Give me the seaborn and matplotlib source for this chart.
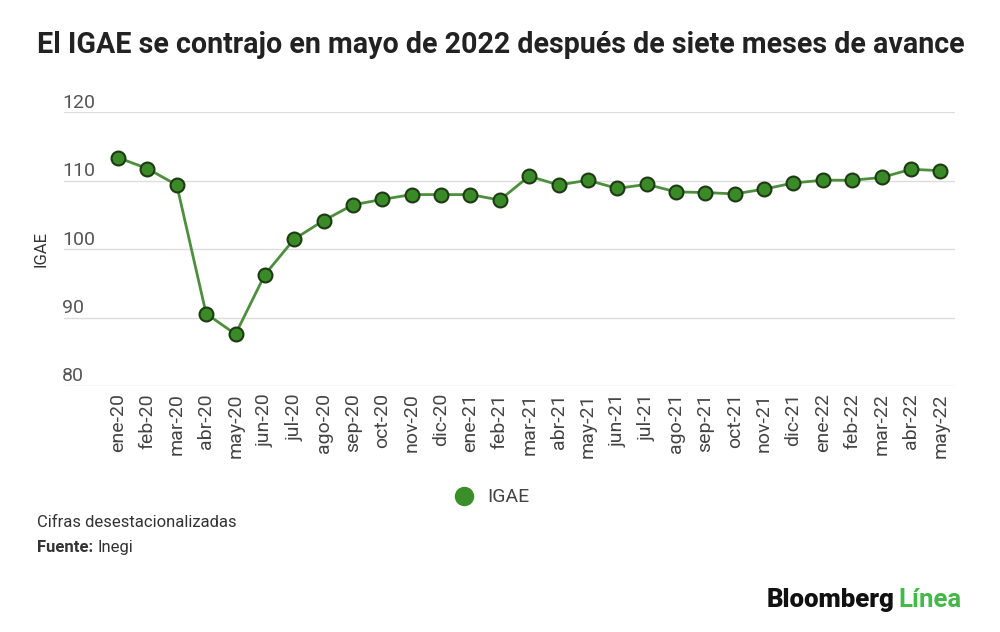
import matplotlib
matplotlib.use("Agg")
import matplotlib.pyplot as plt
import matplotlib.transforms as mtransforms
from matplotlib.lines import Line2D
import seaborn as sns
import pandas as pd

months = ["ene-20", "feb-20", "mar-20", "abr-20", "may-20", "jun-20", "jul-20", "ago-20",
          "sep-20", "oct-20", "nov-20", "dic-20", "ene-21", "feb-21", "mar-21", "abr-21",
          "may-21", "jun-21", "jul-21", "ago-21", "sep-21", "oct-21", "nov-21", "dic-21",
          "ene-22", "feb-22", "mar-22", "abr-22", "may-22"]
igae = [113.4, 111.8, 109.4, 90.6, 87.6, 96.3, 101.5, 104.2,
        106.5, 107.3, 108.0, 108.0, 108.0, 107.2, 110.7, 109.4,
        110.1, 108.9, 109.5, 108.4, 108.3, 108.1, 108.8, 109.7,
        110.1, 110.1, 110.5, 111.7, 111.5]
y_ticks = [80, 90, 100, 110, 120]

title = "El IGAE se contrajo en mayo de 2022 después de siete meses de avance"
series_name = "IGAE"
note = "Cifras desestacionalizadas"
source_label = "Fuente:"
source = "Inegi"

sns.set_theme(style="white")
plt.rcParams["font.family"] = ["Roboto", "DejaVu Sans"]

df = pd.DataFrame({"idx": range(len(months)), "mes": months, "IGAE": igae})

fig = plt.figure(figsize=(10, 6.32), dpi=100)
fig.patch.set_facecolor("white")
ax = fig.add_axes([0.064, 0.389, 0.891, 0.433])

line_c = "#4d8f3c"
fill_c = "#3a8a28"
edge_c = "#1d3a14"

sns.lineplot(data=df, x="idx", y="IGAE", ax=ax, color=line_c, linewidth=2,
             marker="o", markersize=10, markerfacecolor=fill_c,
             markeredgecolor=edge_c, markeredgewidth=1.5, legend=False, zorder=3)

ax.set_xlim(-1.84, 28.5)
ax.set_ylim(80, 120)
ax.set_yticks(y_ticks)
ax.set_yticklabels([])
ax.tick_params(axis="y", length=0)
ax.grid(axis="y", color="#dddddd", linewidth=1)
ax.grid(axis="x", visible=False)
for s in ax.spines.values():
    s.set_visible(False)

trans = mtransforms.blended_transform_factory(ax.transAxes, ax.transData)
for v in y_ticks:
    ax.text(-0.002, v + 0.7, str(v), transform=trans, ha="left", va="baseline",
            fontsize=14, color="#555555")

ax.set_xticks(range(len(months)))
ax.set_xticklabels(months, rotation=90, fontsize=14, color="#444444")
ax.tick_params(axis="x", length=0, pad=5)
ax.set_xlabel("")
ax.set_ylabel("IGAE", fontsize=12, color="#333333")
ax.yaxis.set_label_coords(-0.017, 0.5)

fig.text(0.037, 0.929, title, fontsize=20.6, fontweight="bold", color="#222222",
         ha="left", va="center")

handle = Line2D([], [], linestyle="none", marker="o", markersize=13,
                markerfacecolor="#3a8f2a", markeredgecolor="#3a8f2a")
fig.legend([handle], [series_name], loc="center", bbox_to_anchor=(0.487, 0.213),
           frameon=False, fontsize=14, handletextpad=0.15, labelcolor="#444444")

fig.text(0.037, 0.174, note, fontsize=12, color="#333333", ha="left", va="center")
t = fig.text(0.037, 0.134, source_label + " ", fontsize=12, fontweight="bold",
             color="#333333", ha="left", va="center")
fig.canvas.draw()
bb = t.get_window_extent()
fig.text(bb.x1 / fig.bbox.width, 0.134, source, fontsize=12, color="#333333",
         ha="left", va="center")

tb = fig.text(0.767, 0.05, "Bloomberg", fontsize=18.5, fontweight="black", color="#111111",
              ha="left", va="center")
fig.canvas.draw()
bb2 = tb.get_window_extent()
fig.text(bb2.x1 / fig.bbox.width + 0.004, 0.05, "Línea", fontsize=18.5, fontweight="bold",
         color="#45b84a", ha="left", va="center")

fig.savefig("out.png", dpi=100, facecolor="white")
